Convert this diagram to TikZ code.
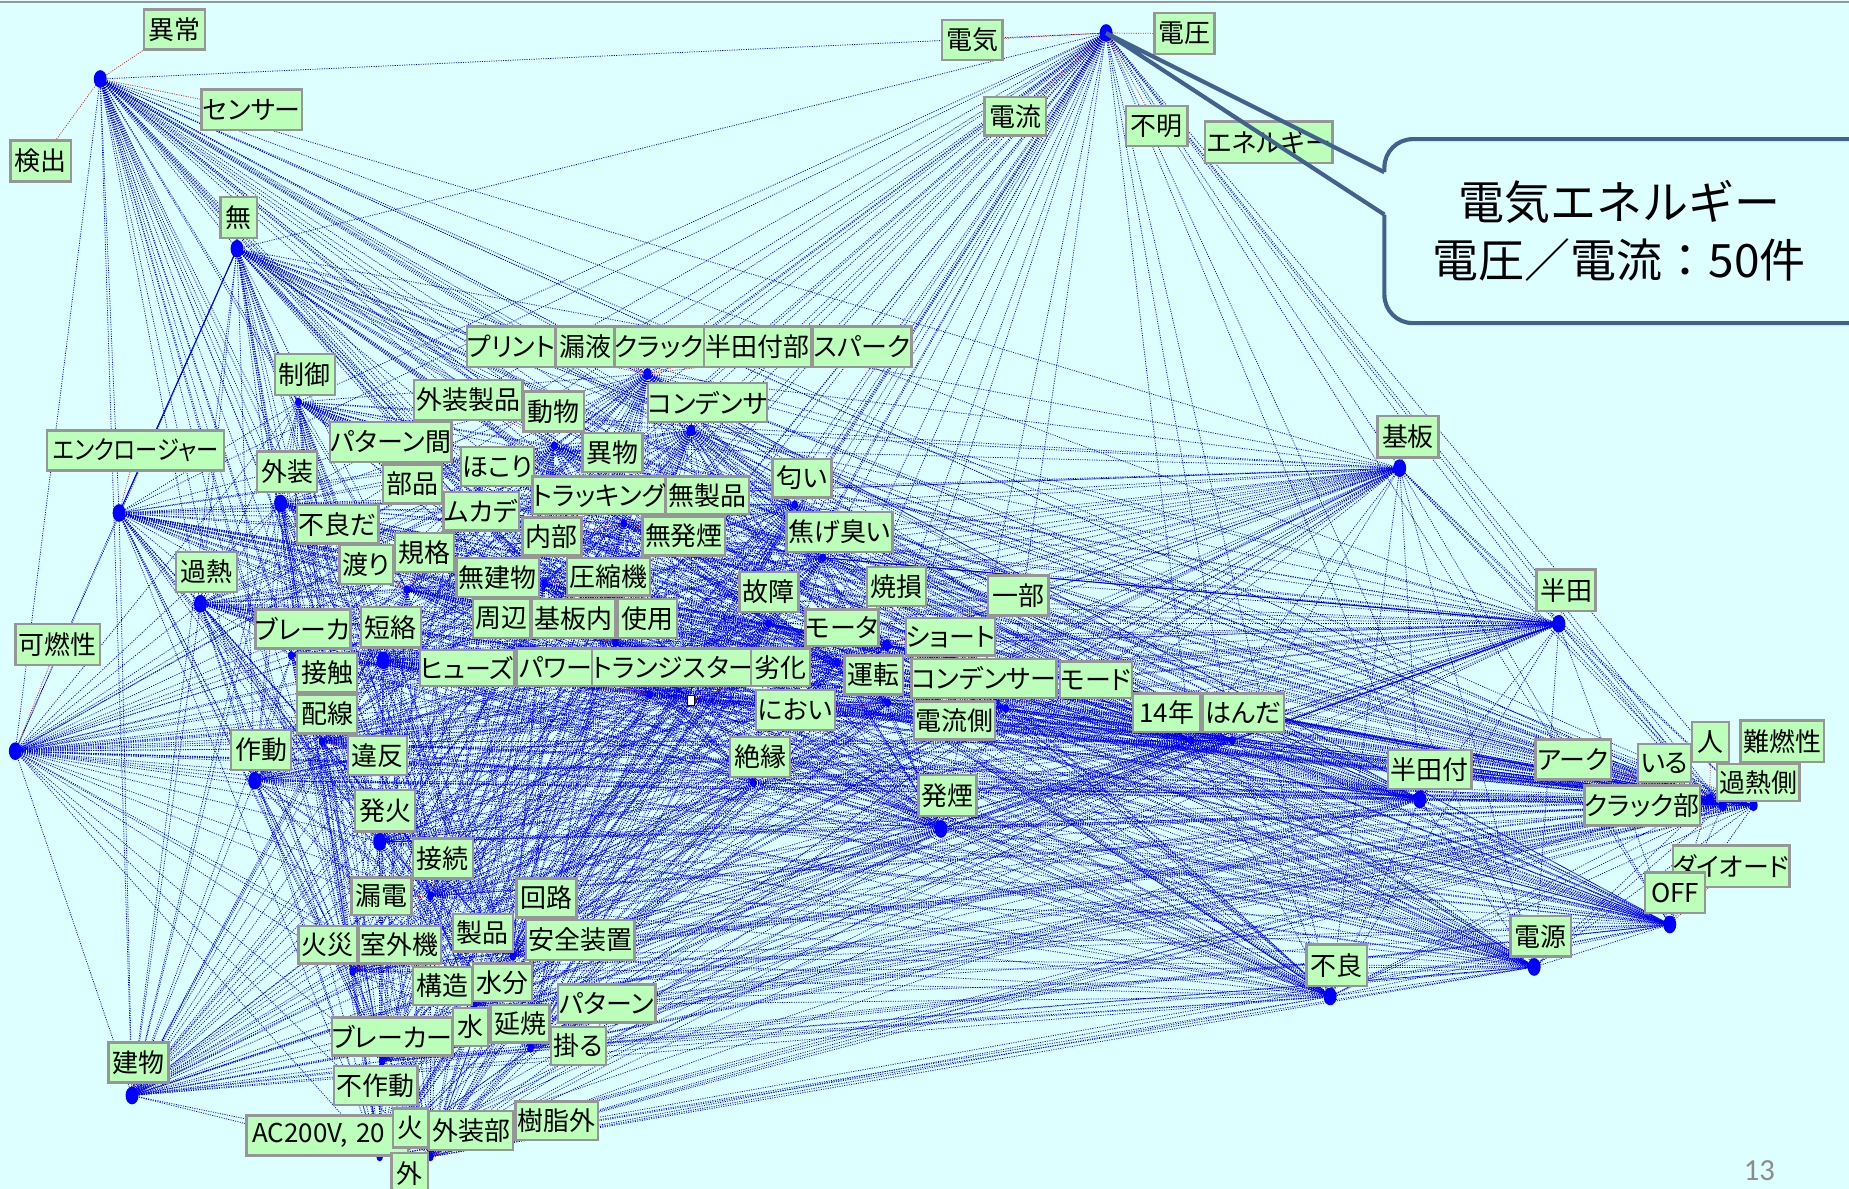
\documentclass[tikz,border=0pt]{standalone}
\usepackage{fontspec}
\newfontfamily\jp[RawFeature={+palt}]{Noto Sans CJK JP}
\newfontfamily\jpw{Noto Sans CJK JP}
\newfontfamily\pagefont{Carlito}
\definecolor{bgc}{RGB}{221,255,255}
\definecolor{boxg}{RGB}{187,255,187}
\definecolor{boxb}{RGB}{150,150,150}
\definecolor{edgec}{RGB}{0,0,235}
\definecolor{redc}{RGB}{190,40,40}
\definecolor{callc}{RGB}{65,98,140}
\definecolor{pagec}{RGB}{140,140,140}
\pgfdeclarelayer{bg}
\pgfdeclarelayer{net}
\pgfsetlayers{bg,net,main}
% name, text, x1, x2, y1, y2
\newcommand\lab[6]{\node[lbl, minimum width={(#4-#3)*1pt}, minimum height={(#6-#5)*1pt}] (#1) at ({(#3+#4)/2},{(#5+#6)/2}) {#2};}
\begin{document}
\begin{tikzpicture}[x=1pt,y=-1pt,
  lbl/.style={draw=boxb, line width=2pt, fill=boxg, inner sep=0pt, font=\jp\fontsize{22}{22}\selectfont},
  edge/.style={draw=edgec, line width=0.65pt, dash pattern=on 0.9pt off 1.1pt},
  solidedge/.style={draw=edgec, line width=0.9pt},
  redl/.style={draw=redc, line width=0.6pt, dash pattern=on 0.9pt off 1.1pt},
  calloutline/.style={draw=callc, line width=3.5pt}]
\useasboundingbox (0,0) rectangle (1568,1008);
\begin{pgfonlayer}{bg}
\fill[bgc] (0,0) rectangle (1568,1008);
\draw[boxb, line width=1.5pt] (0,1.5) -- (1568,1.5);
\end{pgfonlayer}

% dots (phrase nodes)
\foreach \n/\x/\y in {d1/85/67, d2/201/211, d3/938/28, d4/549/317, d5/253/341, d6/586/365,
  d7/101/435, d8/238/427, d9/470/378, dA/390/425, d10/674/428, d11/698/473, d12/170/512,
  d13/529/444, dB/345/500, d14/462/495, d15/652/529, d16/752/547, d17/522/545, d18/325/560,
  d19/247/556, d20/13/637, d21/273/629, d22/551/589, d23/586/594, d24/710/562, d25/753/596,
  d26/853/601, d27/216/662, d28/639/664, d29/798/703, d30/1010/628, d31/1045/628, d32/1187/397,
  d33/1322/529, d34/1204/678, d35/1450/678, d36/1461/683, d37/1487/683, d38/322/714,
  d39/365/760, d40/299/824, d41/435/811, d42/450/889, d43/112/929, d44/322/981, d45/365/981,
  d46/1416/784, d47/1301/820, d48/1128/845, d49/324/900, d50/402/853}
  \coordinate (\n) at (\x,\y);
\def\dotlist{d1,d2,d3,d4,d5,d6,d7,d8,d9,dA,d10,d11,d12,d13,dB,d14,d15,d16,d17,d18,d19,d20,d21,d22,d23,d24,d25,d26,d27,d28,d29,d30,d31,d32,d33,d34,d35,d36,d37,d38,d39,d40,d41,d42,d43,d44,d45,d46,d47,d48,d49,d50}

% labels
\lab{ijo}{異常}{122}{174}{8}{42}
\lab{sensor}{センサー}{171}{256}{76}{110}
\lab{kenshutsu}{検出}{9}{60}{119}{154}
\lab{mu}{無}{187}{218}{167}{202}
\lab{denki}{電気}{799}{850}{17}{51}
\lab{denatsu}{電圧}{979}{1030}{11}{46}
\lab{denryu}{電流}{835}{887}{82}{115}
\lab{fumei}{不明}{955}{1007}{90}{124}
\lab{energy}{エネルギー}{1022}{1130}{103}{138}
\lab{print}{プリント}{397}{470}{277}{311}
\lab{roueki}{漏液}{471}{522}{277}{311}
\lab{crack}{クラック}{523}{595}{277}{311}
\lab{handatsukebu}{半田付部}{597}{688}{277}{311}
\lab{spark}{スパーク}{689}{773}{277}{311}
\lab{seigyo}{制御}{233}{284}{300}{335}
\lab{gaisouseihin}{外装製品}{351}{443}{322}{356}
\lab{doubutsu}{動物}{444}{495}{332}{366}
\lab{condensa}{コンデンサ}{550}{650}{325}{358}
\lab{enclosure}{\scalebox{0.86}[1]{エンクロージャー}}{40}{190}{365}{399}
\lab{patternkan}{パターン間}{280}{383}{358}{392}
\lab{gaisou}{外装}{218}{269}{383}{417}
\lab{ibutsu}{異物}{494}{545}{367}{400}
\lab{hokori}{ほこり}{391}{453}{379}{412}
\lab{buhin}{部品}{325}{375}{394}{427}
\lab{nioiA}{匂い}{655}{705}{389}{422}
\lab{tracking}{トラッキング}{454}{562}{404}{436}
\lab{museihin}{無製品}{565}{635}{404}{436}
\lab{mukade}{ムカデ}{376}{440}{417}{450}
\lab{furyoda}{不良だ}{252}{321}{428}{461}
\lab{naibu}{内部}{443}{493}{439}{471}
\lab{muhatsuen}{無発煙}{545}{615}{438}{471}
\lab{kogekusai}{焦げ臭い}{667}{757}{434}{468}
\lab{watari}{渡り}{288}{333}{462}{495}
\lab{kikaku}{規格}{335}{385}{452}{485}
\lab{kanetsu}{過熱}{149}{201}{468}{502}
\lab{mukenbutsu}{無建物}{387}{457}{473}{506}
\lab{asshukuki}{圧縮機}{481}{551}{473}{505}
\lab{kosho}{故障}{627}{677}{485}{519}
\lab{shouson}{焼損}{735}{785}{481}{514}
\lab{ichibu}{一部}{838}{889}{488}{522}
\lab{shuhen}{周辺}{401}{450}{508}{541}
\lab{kibannai}{基板内}{451}{522}{508}{541}
\lab{shiyou}{使用}{524}{574}{508}{541}
\lab{breakerA}{ブレーカ}{217}{297}{517}{550}
\lab{tanraku}{短絡}{306}{357}{515}{549}
\lab{motor}{モータ}{683}{745}{517}{548}
\lab{short}{ショート}{770}{842}{524}{556}
\lab{kanensei}{可燃性}{13}{85}{529}{564}
\lab{sesshoku}{接触}{252}{303}{554}{587}
\lab{fuse}{ヒューズ}{356}{436}{551}{582}
\lab{power}{パワー}{438}{505}{550}{582}
\lab{transistor}{トランジスター}{507}{635}{550}{582}
\lab{rekka}{劣化}{637}{687}{550}{582}
\lab{unten}{運転}{716}{766}{556}{589}
\lab{condenser}{コンデンサー}{775}{894}{559}{592}
\lab{mode}{モード}{899}{960}{561}{592}
\lab{haisen}{配線}{252}{303}{589}{622}
\lab{nioiB}{におい}{641}{708}{585}{619}
\lab{denryugawa}{電流側}{775}{844}{595}{627}
\lab{nen}{14年}{961}{1018}{588}{621}
\lab{handaB}{はんだ}{1020}{1089}{588}{621}
\lab{sadou}{作動}{196}{247}{619}{653}
\lab{ihan}{違反}{295}{345}{624}{657}
\lab{zetsuen}{絶縁}{619}{670}{625}{659}
\lab{hatsuen}{発煙}{779}{828}{657}{692}
\lab{handatsuke}{半田付}{1177}{1248}{636}{669}
\lab{arc}{アーク}{1302}{1366}{627}{661}
\lab{iru}{いる}{1389}{1434}{631}{663}
\lab{hito}{人}{1435}{1466}{612}{646}
\lab{nannensei}{難燃性}{1476}{1547}{611}{646}
\lab{kanetsugawa}{過熱側}{1456}{1526}{648}{679}
\lab{crackbu}{クラック部}{1347}{1438}{666}{700}
\lab{kiban}{基板}{1168}{1220}{353}{388}
\lab{handa}{半田}{1303}{1353}{483}{518}
\lab{hakka}{発火}{301}{352}{670}{705}
\lab{setsuzoku}{接続}{350}{401}{711}{745}
\lab{rouden}{漏電}{298}{349}{744}{776}
\lab{kairo}{回路}{438}{489}{745}{778}
\lab{kasai}{火災}{253}{303}{785}{817}
\lab{shitsugaiki}{室外機}{304}{374}{785}{817}
\lab{seihin}{製品}{384}{435}{775}{807}
\lab{anzen}{安全装置}{446}{538}{780}{814}
\lab{kouzou}{構造}{350}{400}{820}{852}
\lab{suibun}{水分}{401}{451}{817}{849}
\lab{pattern}{パターン}{473}{556}{835}{867}
\lab{breakerB}{ブレーカー}{283}{382}{863}{895}
\lab{mizu}{水}{384}{414}{855}{887}
\lab{enshou}{延焼}{416}{466}{852}{884}
\lab{kakaru}{掛る}{467}{514}{871}{903}
\lab{tatemono}{建物}{92}{143}{884}{918}
\lab{fusadou}{不作動}{283}{354}{904}{937}
\node[lbl, anchor=west, minimum height=34pt, text width=127pt, inner xsep=5pt, align=left] (ac) at (208,963) {AC200V, 20};
\lab{hi}{火}{333}{363}{940}{973}
\lab{gaisoubu}{外装部}{364}{435}{942}{975}
\lab{jushigai}{樹脂外}{437}{507}{934}{967}
\lab{soto}{外}{332}{363}{978}{1012}
\lab{diode}{ダイオード}{1420}{1516}{717}{752}
\lab{off}{OFF}{1395}{1446}{740}{774}
\lab{dengen}{電源}{1281}{1332}{777}{811}
\lab{furyo}{不良}{1108}{1159}{801}{836}

\begin{pgfonlayer}{net}
% co-occurrence edges
\foreach \a [count=\i] in \dotlist {
  \foreach \b [count=\j] in \dotlist {
    \ifnum\j>\i \draw[edge] (\a) -- (\b); \fi
  }
}
\draw[solidedge] (d2) -- (d7);
\draw[solidedge] (d33) -- (d31);
\draw[solidedge] (d11) -- (d33);
\draw[solidedge] (d16) -- (d35);
% label-to-dot links
\foreach \l/\d in {ijo/d1, sensor/d1, kenshutsu/d1, mu/d2, denki/d3, denatsu/d3, denryu/d3,
  fumei/d3, energy/d3, print/d4, roueki/d4, crack/d4, handatsukebu/d4, spark/d4, seigyo/d5,
  condensa/d6, enclosure/d7, gaisou/d8, gaisouseihin/d9, doubutsu/d9, patternkan/dA, buhin/dA,
  hokori/dA, ibutsu/d13, tracking/d13, museihin/d13, naibu/d13, muhatsuen/d13, mukade/dB,
  kikaku/dB, watari/dB, furyoda/dB, nioiA/d10, kogekusai/d11, kanetsu/d12, mukenbutsu/d14,
  asshukuki/d14, kosho/d15, shouson/d16, motor/d16, short/d16, ichibu/d16, shuhen/d17,
  kibannai/d17, shiyou/d17, tanraku/d18, breakerA/d19, sesshoku/d19, kanensei/d20, haisen/d21,
  ihan/d21, fuse/d22, power/d22, transistor/d22, rekka/d23, unten/d24, nioiB/d25,
  condenser/d26, mode/d26, denryugawa/d26, sadou/d27, zetsuen/d28, hatsuen/d29, nen/d30,
  handaB/d31, kiban/d32, handa/d33, handatsuke/d34, arc/d35, iru/d35, hito/d35,
  kanetsugawa/d36, crackbu/d36, nannensei/d37, hakka/d38, setsuzoku/d39, rouden/d39,
  kasai/d40, shitsugaiki/d40, seihin/d41, kairo/d41, anzen/d41, enshou/d42, kakaru/d42,
  pattern/d42, tatemono/d43, ac/d44, hi/d44, gaisoubu/d45, jushigai/d45, soto/d45, off/d46,
  diode/d46, dengen/d47, furyo/d48, breakerB/d49, fusadou/d49, kouzou/d50, suibun/d50, mizu/d50}
  \draw[redl] (\l) -- (\d);
% dots
\foreach \n in {d1,d2,d3,d7,d8,d12,d18,d20,d27,d38,d43,d29,d32,d33,d34,d46,d47,d48}
  \fill[blue] (\n) ellipse [x radius=5.5pt, y radius=7.5pt];
\foreach \n in {d35,d36,d37,d16,d4,d6}
  \fill[blue] (\n) ellipse [x radius=3.5pt, y radius=5pt];
\foreach \n in {d5,d9,dA,d10,d11,d13,dB,d14,d15,d17,d19,d21,d22,d24,d25,d26,d28,d30,d31,d39,d40,d41,d42,d44,d45,d49,d50}
  \fill[blue] (\n) ellipse [x radius=2.8pt, y radius=3.8pt];
\node[draw=black, fill=white, line width=0.6pt, inner sep=0pt, minimum width=6pt, minimum height=9pt] (sq) at (d23) {};
\end{pgfonlayer}

% callout
\fill[bgc, rounded corners=24pt] (1174,118) rectangle (1610,274);
\draw[calloutline, rounded corners=24pt] (1174,146) -- (1174,118) -- (1610,118) -- (1610,274) -- (1174,274) -- (1174,182);
\draw[calloutline, line join=miter] (1174,182) -- (d3) -- (1174,146);
\node[font=\jpw\fontsize{39}{49}\selectfont, align=center, inner sep=0pt] (callout) at (1373,196) {電気エネルギー\\電圧／電流：50件};

\node[font=\pagefont\fontsize{26}{26}\selectfont, text=pagec, inner sep=0pt] (page) at (1492,993) {13};
\end{tikzpicture}
\end{document}
